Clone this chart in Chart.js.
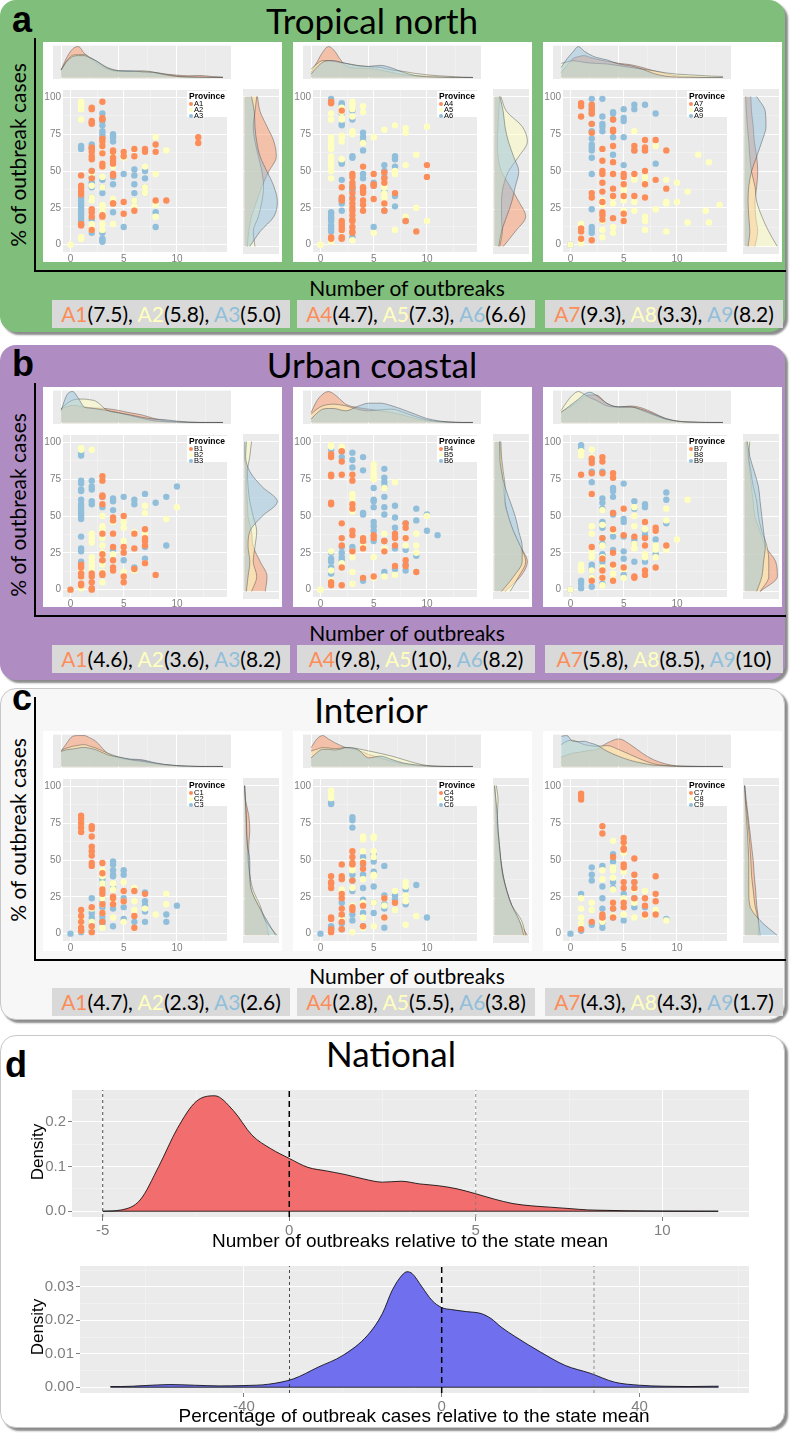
<!DOCTYPE html>
<html>
<head>
<meta charset="utf-8">
<title>Outbreaks by region</title>
<script src="https://cdn.jsdelivr.net/npm/chart.js@4.4.1/dist/chart.umd.min.js"></script>
<style>
  body { margin: 0; background: #fff; }
  #page { position: relative; width: 791px; height: 1435px; overflow: hidden; font-family: Lato, 'Open Sans', sans-serif; }
  .panel { position: absolute; left: 0; width: 785px; border-radius: 16px; box-shadow: 3px 3px 2px rgba(0,0,0,0.45); box-sizing: border-box; }
  .letter { position: absolute; font-family: 'Liberation Sans', Arial, sans-serif; font-weight: bold; font-size: 36px; line-height: 36px; }
  .title { position: absolute; font-size: 35px; line-height: 35px; white-space: nowrap; transform: translateX(-50%); }
  .white { position: absolute; width: 239px; height: 220px; background: #fff; }
  .vline { position: absolute; width: 2px; background: #000; }
  .hline { position: absolute; height: 2px; background: #000; }
  .ylab { position: absolute; font-size: 21px; white-space: nowrap; transform: translate(-50%, -50%) rotate(-90deg); }
  .xlab { position: absolute; font-size: 21px; white-space: nowrap; transform: translate(-50%, -50%); }
  .means { position: absolute; width: 238px; height: 28px; background: #d9d9d9; font-size: 21px; line-height: 28px; text-align: center; white-space: nowrap; }
  .prov { position: absolute; width: 42px; height: 26px; background: #fff; font-family: 'Liberation Sans', Arial, sans-serif; font-size: 7.5px; line-height: 6px; }
  .prov b { display: block; font-size: 8.5px; line-height: 9px; padding: 1px 0 0 2px; }
  .prov div { padding-left: 2px; }
  .dot { display: inline-block; width: 4px; height: 4px; border-radius: 50%; margin-right: 1px; vertical-align: 0; }
  .nat { position: absolute; font-family: 'Liberation Sans', Arial, sans-serif; white-space: nowrap; }
  canvas { position: absolute; }
</style>
</head>
<body>
<div id="page"></div>
<script>
// ---- shared axes ----
const topX = [0, 0.5, 1, 1.5, 2, 2.5, 3, 4, 5, 6, 7, 8, 9, 10, 11, 12, 13, 14];
const sideY = [0, 10, 20, 30, 40, 50, 60, 70, 80, 90, 100];

// ---- panel a: tropical north (points grouped as [x, y, y, ...]) ----
const ptsA1 = [[1,47,40,38,36,34,14,13],[2,93,92,84,83,82,66,65,63,60,58,50,45,24,22,19,10],[3,97,86,85,72,70,67,62,55,53,20,19],[4,64,63,59,57,55,48,47,28,28],[5,63,60,29,21],[6,65,60,23],[7,65,63],[8,68,63,30],[9,30],[12,73,69]];
const ptsA2 = [[0,0],[1,97,96,95,94,92,85,5,4],[2,48,40,32,30,14,11,10],[3,70,67,62,55,53,46,39,27,25,22,19,14,10],[4,61,59,57,53,31,28,14],[5,62,59],[6,65,30,26],[7,53,39,36,35],[8,73,48,27,19],[9,64]];
const ptsA3 = [[1,67,65,32,30,28,26,24,22,20,18,16,14],[2,68,66,50,46,42,39,32,17,8],[3,89,85,84,81,77,75,73,44,39,35,8,4,3,2],[4,75,73,70,59,46,41,22],[5,48,12],[6,51,47,41,35,30],[7,50,45,39,35],[8,22,12]];
const ptsA4 = [[1,97,96,5,4],[2,91,39,32,30,16,14,12,10,5,4],[3,48,46,42,39,35,31,28,25,23,20,17,16,12,9,8],[4,53,39,38,36,35,30,27,23],[5,48,41,40,31],[6,49,45,42,28,23],[7,35],[8,16],[9,9],[10,54,46]];
const ptsA5 = [[0,0,0],[1,89,85,73,70,68,67,65,60,58,57,55,53,50,45,3,2],[2,93,90,86,85,74,73,70,58],[3,97,95,92,87,77,76,75,3],[4,94,90,69],[5,73,8],[6,78,39,35,32,28],[7,81,50,48,10],[8,79,76,54,19],[9,61,25],[10,80,16]];
const ptsA6 = [[1,99,97,22,21,19,18,16,13,11,9],[2,96,95,89,82,81,56,55,44,31,30,28,23],[3,91,85,60,59,40,38,37,32,5],[4,76,73,70,64,48,45,38],[5,42,40,12],[6,54,50,46,36,23],[7,60,58,53,33,26],[8,16]];
const ptsA7 = [[1,96,94,87,11,9,4],[2,95,92,89,82,76,35,32,3],[3,65,57,50,48,42,36,29,22,20,17],[4,85,78,77,67,56,48,38,33,18],[5,48,46,41,33,21,16],[6,67,64,48,33],[7,71,66,64,50,41,32],[8,71,44],[9,64,38]];
const ptsA8 = [[0,0],[1,14,10,4,2,1],[3,30,27,17,16,10,5],[4,32,28,12,8],[5,41,37,30,23,16],[6,77,46,44,29,23],[7,46,42,19,16,10],[8,67,24],[9,44,29,28,9],[10,42,29],[11,36,15],[12,61],[12.7,23],[13,56,15],[14,27]];
const ptsA9 = [[0,0],[2,99,94,91,89,82,77,72,68,66,64,59,48,24,12,10,8],[3,99,87,82,80,77,16],[4,90,89,85,73,61],[5,92,86,84,73,54],[6,95,92,64],[7,95,64],[8,89,55]];

// ---- panel b: urban coastal ----
const ptsB1 = [[0,0],[1,17,15,11,9,4,3],[2,11,9,5,1,0],[3,77,74,64,63,58,38,24,20,11,10],[4,49,47,38,29,20,15,13],[5,50,29,25,9,5],[6,38,28,14],[7,41,35,33,30,18],[8,10]];
const ptsB2 = [[0,0],[1,96,95,14,10,9,1],[2,95,38,35,32,22,19,16,13],[3,50,43,42,40,35,30,25,22,17,12,5],[4,48,46,24],[5,46,42,33,12],[6,39,13],[7,57,52,38,18],[9,48],[10,56]];
const ptsB3 = [[0,0],[1,93,91,74,72,68,67,61,58,56,54,52,50,48,36,28,26,19],[2,74,70,68,60,58],[3,63,56,22,20],[4,62,60,54,27],[5,63,20],[6,61,58,15],[7,65,29,21],[8,59],[9,63,30],[10,70]];
const ptsB4 = [[1,92,90,78,77,59,58,5,3],[2,94,87,78,45,35,30,15,3],[3,78,74,58,55,40,37,26],[4,35,33,28,8],[5,37,35,9],[6,33,26],[7,38,35,30,16],[8,45,42,35,20,16],[9,12]];
const ptsB5 = [[0,0,0],[1,98,97,26,13,6],[2,97,96,18],[3,65,62,58,53,26,22,12,4],[4,35,30,28],[5,85,82,79,77,75,22,8],[6,69,38,28,9],[7,73,10],[8,35,30],[9,38,30,25],[10,50]];
const ptsB6 = [[1,95,25,21,19,15,13,11],[2,94,90,29,25,22,20],[3,93,88,83,29,27],[4,90,81,52,51,32,6],[5,69,61,60,56,46,43,40,33],[6,82,76,73,70,63,56,51,33,12],[7,57,49,42,36,28,14],[8,45,27,17,13],[9,55,47,23],[10,51,40],[11,37]];
const ptsB7 = [[1,78],[2,89,86,79,65,29,6],[3,90,87,79,35,21,13,8],[4,79,76,52,41,25,17,6],[5,55,37,15],[6,36,9,8],[7,46,35,30,13,10],[8,42,40,15],[9,30]];
const ptsB8 = [[0,0],[1,94,91,17,14,13],[2,95,90,43,38,25,22,13,8],[3,54,44,30,22,15,8,3],[4,40,16,11,7],[5,14,8],[6,56,50,43,31,28],[7,41,24,22],[8,30,27,22],[9,55,47,27],[10,34],[11,61]];
const ptsB9 = [[0,0],[1,98,96,6,4,1],[2,88,80,73,17,15,13,8,2],[3,80,62,59,55,46,42,35,31,24,22,19,15,4],[4,69,67,63,52,51,36,27],[5,72,48,46,36,26,21,10],[6,60,55,34,31,19],[7,58,56,40,37,19],[8,34,24],[9,66,61,45]];

// ---- panel c: interior ----
const ptsC1 = [[1,80,78,75,72,69,16,12,8,4,2],[2,73,71,66,59,56,53,48,46,18,5,1],[3,48,41,30,27,20,14,8],[4,25,24,20],[5,29,22],[6,29,12,4],[7,27]];
const ptsC2 = [[1,11,9,5,2],[2,17,8,4],[3,43,39,34,30,24,20,14,4],[4,34,30,22,11],[5,35,22,8],[6,31,22,16],[7,17],[8,13],[9,27,20]];
const ptsC3 = [[0,0],[1,2,1],[2,24,17,14,11,8,5,2],[3,37,34,29,24,21,18,12,9,7],[4,49,47,43,40,39,31,17,5],[5,43,40,24,18,10],[6,8],[7,28,22,19,15,8],[9,13,8],[10,19]];
const ptsC4 = [[1,39,35,34,31,11,10,3,1],[2,47,39,37,27,24,17,13,8,3],[3,56,52,48,47,36,18,16],[4,48,44,19,5],[6,24,11],[7,21]];
const ptsC5 = [[1,97,94,92],[2,39,30,10],[3,44,43,31,19,1],[4,66,64,56,49,37,21,11,4],[5,66,65,56,52,40,39,21,5],[6,24,19,11],[7,29,16],[8,35,32,26,22,6],[9,12]];
const ptsC6 = [[0,0],[1,89,88,5,4,3],[2,21,12,7,3],[3,79,77,72,40,36,29,13,9],[4,52,47,40,31,23,20,14,5],[5,54,52,49,42,32,21,14],[6,46,26,20,17,4],[7,26,23],[8,30,20],[9,33],[10,11]];
const ptsC7 = [[1,95,93,91,3],[2,8],[3,73,68,13,11],[4,52,21,17,11],[5,65,62,58,57,47,45,35,31,21,18],[6,51,40,35,31,24],[7,24,19,13],[8,39,27,22,13]];
const ptsC8 = [[1,24,17,11,7],[2,21,16],[3,43,37,8],[4,63,45,43,38,30,21,12],[5,60,55,42,24,13],[6,30,21,11],[7,29,12],[8,16],[9,9]];
const ptsC9 = [[0,0],[1,27,2],[2,45,40,36,6],[3,46,32,24,17,11,7,4],[4,54,49,35,31,17,11],[5,27,9],[6,35,24,18],[7,18],[9,10]];

// ---- marginal densities along x (read at topX) ----
const topA1 = [23,60,85,92,72,58,45,25,18,18,17,15,10,7,5,6,3,1];
const topA2 = [22,50,66,68,68,60,50,30,20,18,20,16,10,4,2,1,0.5,0];
const topA3 = [22,48,62,65,65,58,50,28,20,20,17,15,8,3,1,0.5,0,0];
const topA4 = [15,45,75,92,80,55,35,28,27,22,15,8,5,4,2,1,0,0];
const topA5 = [25,40,50,50,48,45,42,36,32,30,22,18,12,8,5,3,1,0];
const topA6 = [10,30,45,50,50,46,42,35,33,36,28,15,6,2,1,0,0,0];
const topA7 = [15,35,55,62,65,60,55,48,42,38,30,20,12,5,3,1,0,0];
const topA8 = [42,46,50,48,45,43,42,40,35,30,25,20,14,10,8,6,4,3];
const topA9 = [30,55,75,92,78,68,60,52,40,35,25,12,4,1,0,0,0,0];
const topB1 = [40,46,50,48,45,43,42,40,35,28,22,12,5,2,1,0,0,0];
const topB2 = [40,55,65,68,68,66,62,35,28,20,12,5,2,1,0,0,0,0];
const topB3 = [35,80,90,70,45,42,40,35,28,22,15,10,8,4,1,0,0,0];
const topB4 = [30,65,85,93,85,70,55,45,40,35,30,22,12,5,2,1,0,0];
const topB5 = [25,40,50,54,55,53,50,40,35,38,40,30,18,8,3,1,0,0];
const topB6 = [10,28,40,42,42,38,35,48,58,58,50,38,25,12,5,1,0,0];
const topB7 = [30,40,50,62,75,80,80,55,45,48,42,28,12,4,1,0,0,0];
const topB8 = [35,60,80,90,82,72,65,48,45,45,35,22,10,4,2,1,0,0];
const topB9 = [30,42,55,68,82,88,80,55,45,45,38,25,12,4,1,0,0,0];
const topC1 = [45,70,90,92,92,85,75,40,25,20,18,10,5,2,0,0,0,0];
const topC2 = [48,55,60,63,65,60,55,40,28,20,15,10,5,2,1,0,0,0];
const topC3 = [45,50,52,55,57,54,50,35,28,22,20,12,6,3,1,0,0,0];
const topC4 = [55,80,90,80,70,62,55,48,35,25,15,8,3,1,0,0,0,0];
const topC5 = [45,50,55,54,52,53,55,52,45,38,30,20,10,3,1,0,0,0];
const topC6 = [25,40,50,50,48,50,55,50,25,30,20,10,5,2,0,0,0,0];
const topC7 = [28,34,40,42,45,48,50,70,82,65,40,20,8,2,1,0,0,0];
const topC8 = [65,75,78,72,65,62,60,62,50,35,20,8,3,1,0,0,0,0];
const topC9 = [90,92,75,74,75,70,65,45,30,18,10,4,2,0,0,0,0,0];

// ---- marginal densities along y (read at sideY) ----
const sideA1 = [8,12,20,35,50,70,92,85,65,45,37];
const sideA2 = [30,25,40,50,55,50,40,30,25,30,35];
const sideA3 = [15,45,85,95,85,65,45,35,30,28,20];
const sideA4 = [25,60,90,70,45,20,10,8,10,12,15];
const sideA5 = [15,22,20,20,25,40,70,95,80,35,18];
const sideA6 = [12,20,35,50,60,70,55,40,30,25,15];
const sideA7 = [30,38,32,30,35,38,35,28,25,20,18];
const sideA8 = [95,70,50,35,30,20,15,12,8,5,3];
const sideA9 = [10,15,12,10,12,20,35,50,62,60,35];
const sideB1 = [60,65,45,25,20,10,8,5,5,0,0];
const sideB2 = [20,35,25,30,35,25,15,10,8,15,20];
const sideB3 = [5,10,15,10,15,50,95,50,15,3,5];
const sideB4 = [30,75,95,75,55,40,30,25,22,18,15];
const sideB5 = [45,70,90,75,55,40,30,30,25,20,18];
const sideB6 = [20,55,80,80,70,60,45,30,20,15,15];
const sideB7 = [45,95,90,60,45,30,25,20,15,10,5];
const sideB8 = [45,70,70,65,50,40,35,25,18,12,15];
const sideB9 = [35,50,55,60,55,50,45,40,28,15,8];
const sideC1 = [70,60,40,20,15,12,12,15,12,3,0];
const sideC2 = [95,60,45,25,15,10,8,5,5,2,0];
const sideC3 = [90,65,40,20,15,15,8,6,4,2,0];
const sideC4 = [95,70,50,35,25,18,12,8,5,3,0];
const sideC5 = [90,78,50,35,24,18,14,10,8,10,5];
const sideC6 = [85,72,50,35,24,18,14,10,8,4,0];
const sideC7 = [40,40,35,32,28,25,20,15,10,5,0];
const sideC8 = [45,40,30,25,20,18,15,12,8,3,0];
const sideC9 = [95,45,15,12,12,12,10,8,5,2,0];

// ---- means shown under each region ----
const meanLabels = ['A1','A2','A3','A4','A5','A6','A7','A8','A9'];
const meansA = ['7.5','5.8','5.0','4.7','7.3','6.6','9.3','3.3','8.2'];
const meansB = ['4.6','3.6','8.2','9.8','10','8.2','5.8','8.5','10'];
const meansC = ['4.7','2.3','2.6','2.8','5.5','3.8','4.3','4.3','1.7'];

// ---- national ----
const natX1 = [-5,-4.5,-4,-3.5,-3,-2.5,-2,-1.5,-1,-0.5,0,0.5,1,1.5,2,2.5,3,3.5,4,4.5,5,5.5,6,6.5,7,7.5,8,8.5,9,10,11.5];
const natY1 = [0,0.003,0.025,0.1,0.185,0.245,0.258,0.225,0.17,0.14,0.118,0.098,0.09,0.082,0.072,0.065,0.067,0.061,0.057,0.05,0.039,0.027,0.017,0.012,0.009,0.006,0.003,0.002,0.001,0.0003,0];
const natRef1 = [-5, 0, 5];
const natX2 = [-67,-65,-60,-55,-50,-45,-40,-35,-30,-25,-20,-15,-12,-10,-8,-7,-6,-4,-2,0,2,5,8,10,12,15,20,25,30,35,40,45,50,55,56];
const natY2 = [0.0002,0.0002,0.0005,0.0008,0.0006,0.0004,0.0005,0.0009,0.0025,0.006,0.0095,0.0155,0.022,0.029,0.0335,0.0345,0.034,0.03,0.026,0.0238,0.0232,0.0226,0.022,0.0205,0.018,0.015,0.0105,0.0065,0.0042,0.0015,0.0006,0.0003,0.0002,0.0003,0.0003];
const natRef2 = [-30.8, 0, 30.8];

// ---- styling ----
const COLORS = ['#fc8d59', '#ffffbf', '#91bfdb'];
const FILLS = ['rgba(252,141,89,0.45)', 'rgba(255,255,191,0.5)', 'rgba(145,191,219,0.45)'];
const EDGE = 'rgba(60,60,60,0.7)';
const TICK = '#7f7f7f';

Chart.defaults.animation = false;
Chart.defaults.font.family = "'Liberation Sans', Arial, sans-serif";
Chart.register({
  id: 'panelBg',
  beforeDraw(chart) {
    const { ctx, chartArea: a } = chart;
    ctx.save();
    ctx.fillStyle = '#ebebeb';
    ctx.fillRect(a.left, a.top, a.right - a.left, a.bottom - a.top);
    ctx.restore();
  }
});

const page = document.getElementById('page');
function div(cls, x, y, html, style) {
  const d = document.createElement('div');
  d.className = cls;
  d.style.left = x + 'px';
  d.style.top = y + 'px';
  if (style) Object.assign(d.style, style);
  if (html != null) d.innerHTML = html;
  page.appendChild(d);
  return d;
}
function canvas(x, y, w, h) {
  const c = document.createElement('canvas');
  c.width = w; c.height = h;
  c.style.left = x + 'px'; c.style.top = y + 'px';
  c.style.width = w + 'px'; c.style.height = h + 'px';
  page.appendChild(c);
  return c;
}
const isMajor = (v, step) => Math.abs(v / step - Math.round(v / step)) < 1e-6;
function grid(step) {
  return {
    color: c => (!c.tick || isMajor(c.tick.value, step)) ? '#ffffff' : 'rgba(255,255,255,0.6)',
    lineWidth: c => (!c.tick || isMajor(c.tick.value, step)) ? 1 : 0.5,
    drawTicks: false
  };
}
function expand(groups) {
  const out = [];
  groups.forEach(g => g.slice(1).forEach(y => out.push({ x: g[0], y })));
  return out;
}
const base = { responsive: false, animation: false, plugins: { legend: { display: false }, tooltip: { enabled: false } } };

function scatterChart(x0, y0, pts) {
  new Chart(canvas(x0, y0 + 40, 188, 186), {
    type: 'scatter',
    data: { datasets: pts.map((p, i) => ({ data: expand(p), backgroundColor: COLORS[i], borderWidth: 0, pointRadius: 3.2 })) },
    options: Object.assign({}, base, {
      layout: { padding: { top: 8 } },
      scales: {
        x: { type: 'linear', min: -0.7, max: 14.7, afterFit: s => { s.height = 16; }, border: { display: false }, grid: grid(5),
             ticks: { stepSize: 2.5, includeBounds: false, autoSkip: false, maxRotation: 0, padding: 1, color: TICK, font: { size: 10 }, callback: v => isMajor(v, 5) ? String(v) : '' } },
        y: { type: 'linear', min: -5, max: 105, afterFit: s => { s.width = 20; }, border: { display: false }, grid: grid(25),
             ticks: { stepSize: 12.5, includeBounds: false, autoSkip: false, padding: 2, color: TICK, font: { size: 10 }, callback: v => isMajor(v, 25) ? String(v) : '' } }
      }
    })
  });
}

// later provinces are drawn on top (lower order = drawn last)
function densSet(points, i) {
  return { data: points, fill: 'origin', backgroundColor: FILLS[i], borderColor: EDGE, borderWidth: 0.6, pointRadius: 0, cubicInterpolationMode: 'monotone', order: 2 - i };
}

function topDensity(x0, y0, series) {
  const peak = Math.max(...series.flat());
  new Chart(canvas(x0 + 10, y0 + 3, 178, 34), {
    type: 'line',
    data: { datasets: series.map((vals, i) => densSet(topX.map((x, k) => ({ x, y: vals[k] })), i)) },
    options: Object.assign({}, base, {
      scales: {
        x: { type: 'linear', min: -0.7, max: 14.7, afterFit: s => { s.height = 0; }, border: { display: false }, grid: grid(5), ticks: { display: false, stepSize: 2.5, includeBounds: false } },
        y: { type: 'linear', min: -0.05 * peak, max: 1.05 * peak, afterFit: s => { s.width = 0; }, border: { display: false }, grid: { color: '#fff', lineWidth: 0.6, drawTicks: false }, ticks: { display: false, maxTicksLimit: 5 } }
      }
    })
  });
}

function sideDensity(x0, y0, series) {
  const peak = Math.max(...series.flat());
  new Chart(canvas(x0 + 200, y0 + 47, 36, 165), {
    type: 'line',
    data: { datasets: series.map((vals, i) => densSet(sideY.map((y, k) => ({ x: vals[k], y })), i)) },
    options: Object.assign({}, base, {
      indexAxis: 'y',
      scales: {
        x: { type: 'linear', min: -0.05 * peak, max: 1.05 * peak, afterFit: s => { s.height = 0; }, border: { display: false }, grid: { color: '#fff', lineWidth: 0.6, drawTicks: false }, ticks: { display: false, maxTicksLimit: 5 } },
        y: { type: 'linear', min: -5, max: 105, afterFit: s => { s.width = 0; }, border: { display: false }, grid: grid(25), ticks: { display: false, stepSize: 12.5, includeBounds: false } }
      }
    })
  });
}

// ---- regional panels ----
const layout = [
  { top: 0, h: 332, bg: '#7fbf7b', letter: 'a', letterTop: 2, title: 'Tropical north', titleTop: 3, titleX: 372, axTop: 38, axBot: 270, boxTop: 42, ylabY: 155, xlabY: 287, legTop: 300 },
  { top: 345, h: 335, bg: '#af8dc3', letter: 'b', letterTop: 346, title: 'Urban coastal', titleTop: 347, titleX: 372, axTop: 383, axBot: 615, boxTop: 387, ylabY: 505, xlabY: 632, legTop: 645 },
  { top: 688, h: 332, bg: '#f7f7f7', letter: 'c', letterTop: 680, title: 'Interior', titleTop: 692, titleX: 371, axTop: 697, axBot: 959, boxTop: 731, ylabY: 830, xlabY: 975, legTop: 988 }
];
const regionPts = [[ptsA1,ptsA2,ptsA3,ptsA4,ptsA5,ptsA6,ptsA7,ptsA8,ptsA9],[ptsB1,ptsB2,ptsB3,ptsB4,ptsB5,ptsB6,ptsB7,ptsB8,ptsB9],[ptsC1,ptsC2,ptsC3,ptsC4,ptsC5,ptsC6,ptsC7,ptsC8,ptsC9]];
const regionTop = [[topA1,topA2,topA3,topA4,topA5,topA6,topA7,topA8,topA9],[topB1,topB2,topB3,topB4,topB5,topB6,topB7,topB8,topB9],[topC1,topC2,topC3,topC4,topC5,topC6,topC7,topC8,topC9]];
const regionSide = [[sideA1,sideA2,sideA3,sideA4,sideA5,sideA6,sideA7,sideA8,sideA9],[sideB1,sideB2,sideB3,sideB4,sideB5,sideB6,sideB7,sideB8,sideB9],[sideC1,sideC2,sideC3,sideC4,sideC5,sideC6,sideC7,sideC8,sideC9]];
const regionMeans = [meansA, meansB, meansC];
const provPrefix = ['A', 'B', 'C'];
const subX = [43, 293, 543];
const legX = [52, 297, 545];

layout.forEach((L, r) => {
  div('panel', 0, L.top, null, { height: L.h + 'px', background: L.bg, border: L.bg === '#f7f7f7' ? '1px solid #c8c8c8' : 'none' });
  div('letter', 12, L.letterTop, L.letter);
  div('title', L.titleX, L.titleTop, L.title);
  div('vline', 34, L.axTop, null, { height: (L.axBot - L.axTop + 2) + 'px' });
  div('hline', 34, L.axBot, null, { width: '752px' });
  div('ylab', 17, L.ylabY, '% of outbreak cases');
  div('xlab', 407, L.xlabY, 'Number of outbreaks');
  for (let j = 0; j < 3; j++) {
    const x0 = subX[j], y0 = L.boxTop;
    div('white', x0, y0);
    const idx = [3 * j, 3 * j + 1, 3 * j + 2];
    topDensity(x0, y0, idx.map(k => regionTop[r][k]));
    sideDensity(x0, y0, idx.map(k => regionSide[r][k]));
    scatterChart(x0, y0, idx.map(k => regionPts[r][k]));
    const names = idx.map(k => provPrefix[r] + (k + 1));
    div('prov', x0 + 144, y0 + 49, '<b>Province</b>' + names.map((n, i) => '<div><span class="dot" style="background:' + COLORS[i] + '"></span>' + n + '</div>').join(''));
    const m = regionMeans[r];
    div('means', legX[j], L.legTop, idx.map((k, i) => '<span style="color:' + COLORS[i] + '">' + meanLabels[k] + '</span>(' + m[k] + ')').join(', '));
  }
});

// ---- national panel ----
div('panel', 0, 1035, null, { height: '393px', background: '#fff', border: '1px solid #c8c8c8' });
div('letter', 5, 1047, 'd');
div('title', 391, 1036, 'National');

function natChart(left, top, axisW, xs, ys, refs, fill, xStep, xMajor, yStep, yMajor, yDigits) {
  const xlo = Math.min(...xs), xhi = Math.max(...xs), ypk = Math.max(...ys);
  const xmin = xlo - 0.05 * (xhi - xlo), xmax = xhi + 0.05 * (xhi - xlo);
  const ymin = -0.05 * ypk, ymax = 1.05 * ypk;
  const refSets = refs.map(v => ({
    data: [{ x: v, y: ymin }, { x: v, y: ymax }], borderColor: v === 0 ? '#000' : (v < 0 ? '#222' : '#777'),
    borderWidth: v === 0 ? 1.5 : 0.8, borderDash: v === 0 ? [6, 4] : [3, 3], pointRadius: 0, fill: false, order: 0
  }));
  const baseline = { data: [{ x: xlo, y: 0 }, { x: xhi, y: 0 }], borderColor: '#000', borderWidth: 0.8, pointRadius: 0, fill: false, order: 0 };
  const dens = { data: xs.map((x, i) => ({ x, y: ys[i] })), fill: 'origin', backgroundColor: fill, borderColor: '#000', borderWidth: 0.8, pointRadius: 0, cubicInterpolationMode: 'monotone', order: 1 };
  new Chart(canvas(left - axisW, top - 8, 749 - left + axisW, 8 + 130 + 22), {
    type: 'line',
    data: { datasets: [baseline].concat(refSets, [dens]) },
    options: Object.assign({}, base, {
      layout: { padding: { top: 8 } },
      scales: {
        x: { type: 'linear', min: xmin, max: xmax, afterFit: s => { s.height = 22; }, border: { display: false },
             grid: { color: c => (!c.tick || isMajor(c.tick.value, xMajor)) ? '#fff' : 'rgba(255,255,255,0.6)', lineWidth: c => (!c.tick || isMajor(c.tick.value, xMajor)) ? 1 : 0.5, tickLength: 4, tickColor: c => (c.tick && isMajor(c.tick.value, xMajor)) ? '#7f7f7f' : 'rgba(0,0,0,0)' },
             ticks: { stepSize: xStep, includeBounds: false, autoSkip: false, maxRotation: 0, padding: 1, color: TICK, font: { size: 15 }, callback: v => isMajor(v, xMajor) ? String(Math.round(v)) : '' } },
        y: { type: 'linear', min: ymin, max: ymax, afterFit: s => { s.width = axisW; }, border: { display: false },
             grid: { color: c => (!c.tick || isMajor(c.tick.value, yMajor)) ? '#fff' : 'rgba(255,255,255,0.6)', lineWidth: c => (!c.tick || isMajor(c.tick.value, yMajor)) ? 1 : 0.5, tickLength: 4, tickColor: c => (c.tick && isMajor(c.tick.value, yMajor)) ? '#7f7f7f' : 'rgba(0,0,0,0)' },
             ticks: { stepSize: yStep, includeBounds: false, autoSkip: false, padding: 2, color: TICK, font: { size: 15 }, callback: v => isMajor(v, yMajor) ? v.toFixed(yDigits) : '' } }
      }
    })
  });
}
natChart(72, 1087, 42, natX1, natY1, natRef1, 'rgb(242,110,110)', 2.5, 5, 0.05, 0.1, 1);
natChart(80, 1263, 50, natX2, natY2, natRef2, 'rgb(112,112,238)', 20, 40, 0.005, 0.01, 2);

div('nat', 38, 1152, 'Density', { fontSize: '17px', transform: 'translate(-50%,-50%) rotate(-90deg)' });
div('nat', 38, 1327, 'Density', { fontSize: '17px', transform: 'translate(-50%,-50%) rotate(-90deg)' });
div('nat', 410, 1241, 'Number of outbreaks relative to the state mean', { fontSize: '19px', transform: 'translate(-50%,-50%)' });
div('nat', 414, 1416, 'Percentage of outbreak cases relative to the state mean', { fontSize: '19px', transform: 'translate(-50%,-50%)' });
</script>
</body>
</html>
